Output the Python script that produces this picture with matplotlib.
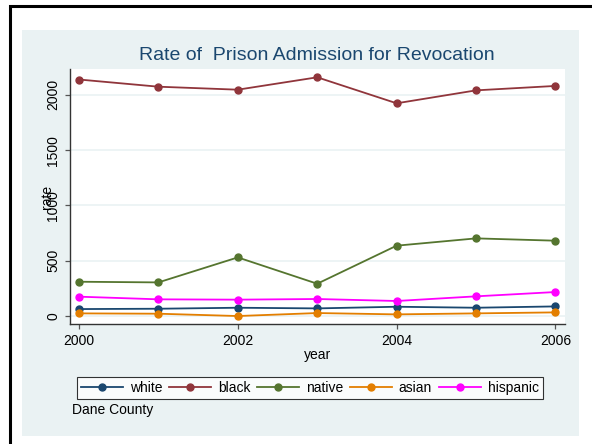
import matplotlib
matplotlib.use("Agg")
import matplotlib.pyplot as plt
from matplotlib.patches import Rectangle

plt.rcParams['font.family'] = ['Liberation Sans', 'DejaVu Sans']

# --- Data ---
years = [2000, 2001, 2002, 2003, 2004, 2005, 2006]
white = [63, 66, 75, 69, 84, 75, 87]
black = [2138, 2073, 2046, 2158, 1923, 2040, 2080]
native = [310, 304, 530, 292, 636, 702, 681]
asian = [24, 21, 0, 27, 15, 24, 33]
hispanic = [175, 151, 148, 154, 136, 178, 217]

series = [
    ("white", white, "#1a476f"),
    ("black", black, "#90353b"),
    ("native", native, "#55752f"),
    ("asian", asian, "#e37e00"),
    ("hispanic", hispanic, "#ff00ff"),
]

W, H = 592, 444
fig = plt.figure(figsize=(W / 100, H / 100), dpi=100)
fig.patch.set_facecolor("white")

# outer black frame (only left/top visible in the reference)
fig.patches.append(Rectangle((10 / W, -0.1), 1.2, 1.1 - 6 / H, transform=fig.transFigure,
                             facecolor="none", edgecolor="black", linewidth=2.2, zorder=-2))
# light bluish graph region
fig.patches.append(Rectangle((22 / W, 1 - 436 / H), (579 - 22) / W, (436 - 30) / H,
                             transform=fig.transFigure, facecolor="#eaf2f3",
                             edgecolor="none", zorder=-1))

ax = fig.add_axes([70 / W, 1 - 324 / H, (565 - 70) / W, (324 - 69) / H])
ax.set_facecolor("white")
ax.set_zorder(1)

for name, vals, col in series:
    ax.plot(years, vals, color=col, marker="o", markersize=5, linewidth=1.3, label=name)

ax.set_xlim(1999.887, 2006.12)
ax.set_ylim(-72, 2233)
ax.set_xticks([2000, 2002, 2004, 2006])
ax.set_yticks([0, 500, 1000, 1500, 2000])
ax.yaxis.grid(True, color="#eaf2f3", linewidth=1.2)
ax.set_axisbelow(True)

for s in ["top", "right"]:
    ax.spines[s].set_visible(False)
for s in ["left", "bottom"]:
    ax.spines[s].set_color("#333333")
    ax.spines[s].set_linewidth(1.0)

ax.tick_params(axis="both", direction="out", length=3.6, width=0.9, color="#555555",
               labelsize=10, labelcolor="black", pad=3.5)
plt.setp(ax.get_yticklabels(), rotation=90, va="center")

ax.set_xlabel("year", fontsize=10, labelpad=0)
ax.set_ylabel("rate", fontsize=10)
# Stata places the y title right over the tick labels
ax.yaxis.set_label_coords(-0.046, 0.5)
ax.yaxis.label.set_va("center")

fig.text(317 / W, 1 - 55 / H, "Rate of  Prison Admission for Revocation", ha="center", va="center",
         fontsize=14, color="#1a476f")

leg = fig.legend(loc="center", bbox_to_anchor=(310 / W, 1 - 388 / H), ncol=5, fontsize=10,
                 frameon=True, fancybox=False, edgecolor="black", handlelength=3,
                 columnspacing=0.5, handletextpad=0.5, borderpad=0.3)
leg.get_frame().set_linewidth(0.8)

fig.text(72 / W, 1 - 410 / H, "Dane County", ha="left", va="center", fontsize=10)

fig.savefig("out.png", dpi=100)
